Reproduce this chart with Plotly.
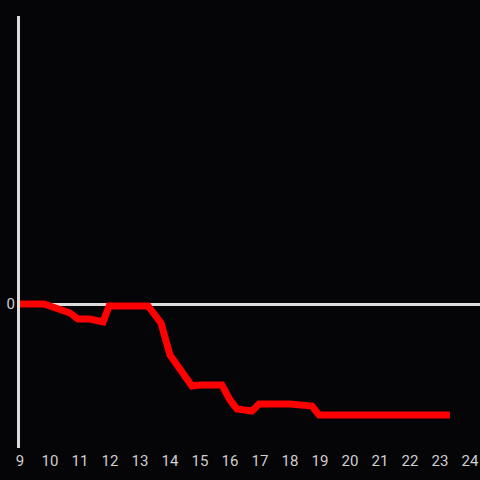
import plotly.graph_objects as go

# hour of day vs cumulative change
hours = [9.0, 9.8, 10.67, 10.93, 11.33, 11.77, 11.97, 13.27, 13.7, 14.0,
         14.73, 15.0, 15.73, 16.0, 16.23, 16.73, 16.97, 18.0, 18.73, 18.97, 23.33]
values = [0.0, 0.0, -0.9, -1.5, -1.5, -1.8, -0.2, -0.2, -1.9, -5.1,
          -8.2, -8.1, -8.1, -9.6, -10.5, -10.7, -10.0, -10.0, -10.2, -11.1, -11.1]
x_ticks = list(range(9, 25))

bg = "#050407"
axis_col = "#dcdcdc"

fig = go.Figure()
fig.add_trace(
    go.Scatter(
        x=hours,
        y=values,
        mode="lines",
        line=dict(color="#ff0000", width=7),
        showlegend=False,
        hoverinfo="skip",
    )
)

fig.update_layout(
    width=480,
    height=480,
    paper_bgcolor=bg,
    plot_bgcolor=bg,
    margin=dict(l=20, r=0, t=16, b=32),
    font=dict(family="Roboto, Liberation Sans, sans-serif", size=15, color="#cfcfcf"),
    xaxis=dict(
        range=[9, 24.333],
        tickvals=x_ticks,
        showgrid=False,
        zeroline=False,
        showline=False,
        ticks="",
        ticklabelstandoff=2,
    ),
    yaxis=dict(
        range=[-14.4, 28.8],
        tickvals=[0],
        showgrid=False,
        zeroline=True,
        zerolinecolor=axis_col,
        zerolinewidth=3,
        showline=True,
        linecolor=axis_col,
        linewidth=3,
        ticks="",
        ticklabelstandoff=-1,
    ),
)

fig.write_html(
    "out.html",
    config={"displayModeBar": False},
    post_script="document.body.style.margin='0';document.body.style.background='%s';" % bg,
)
